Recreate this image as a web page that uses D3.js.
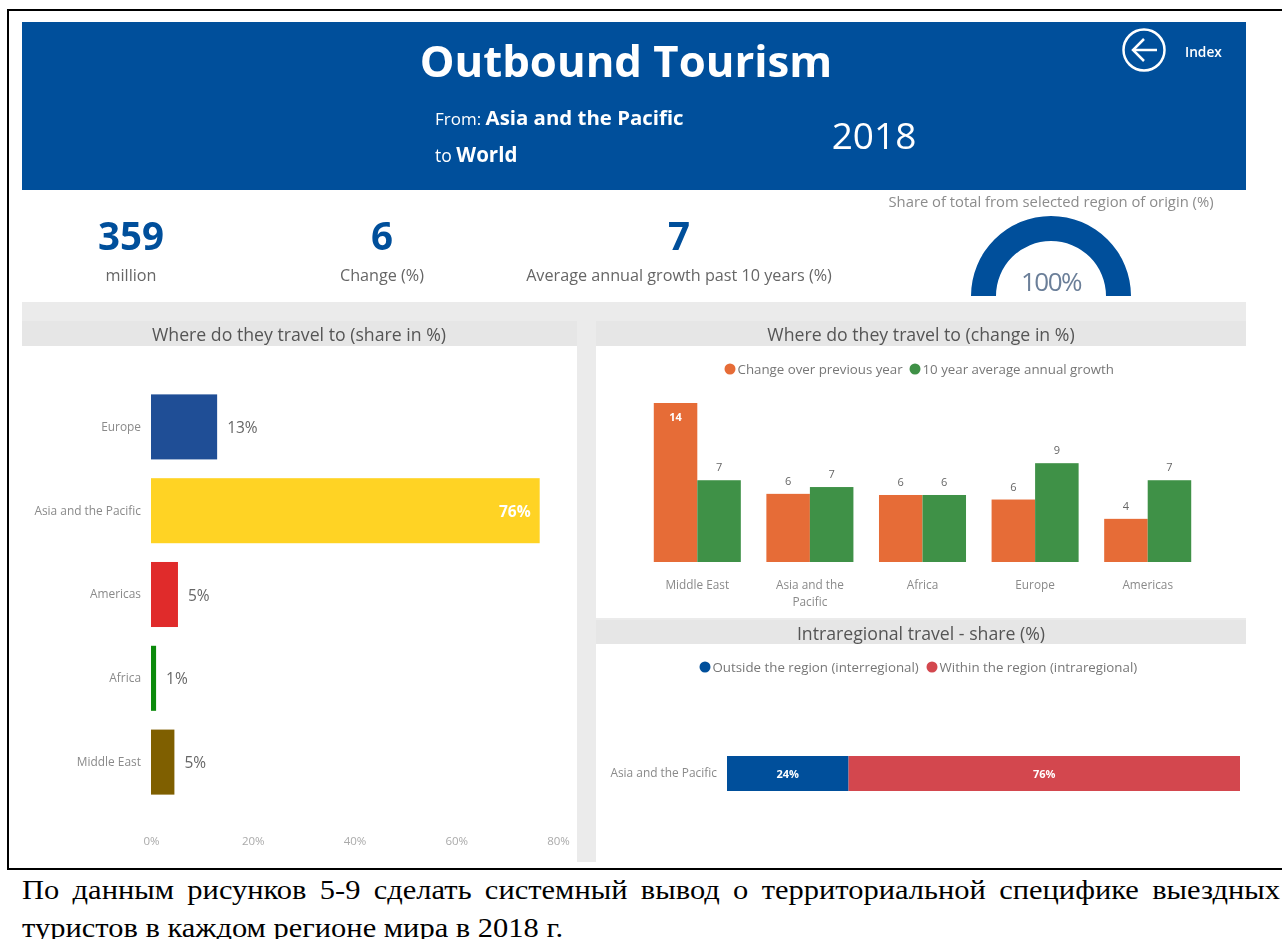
<!DOCTYPE html>
<html><head><meta charset="utf-8">
<script src="https://cdn.jsdelivr.net/npm/d3@7"></script>
<style>
html,body{margin:0;padding:0;background:#fff;overflow:hidden}
svg{display:block}
text{font-family:"Open Sans",sans-serif}
.soft{filter:blur(0.6px)}
</style></head><body>
<script>
const regions = ["Europe","Asia and the Pacific","Americas","Africa","Middle East"];
const shareValues = [13,76.4,5.3,1,4.6];
const shareColors = ["#1F4E96","#FFD324","#E02B2B","#0B8A0B","#7F5F00"];
const shareTicks = [0,20,40,60,80];
const changeRegions = ["Middle East","Asia and the Pacific","Africa","Europe","Americas"];
const changeLines = [["Middle East"],["Asia and the","Pacific"],["Africa"],["Europe"],["Americas"]];
const changeSeries = ["Change over previous year","10 year average annual growth"];
const changePrev = [14,6,5.9,5.5,3.8];
const changeAvg = [7.2,6.6,5.9,8.7,7.2];
const changeColors = ["#E66C37","#3F9147"];
const intraCategory = ["Asia and the Pacific"];
const intraSeries = ["Outside the region (interregional)","Within the region (intraregional)"];
const intraValues = [23.7,76.3];
const intraColors = ["#004F9B","#D3474E"];
const kpiValues = ["359","6","7"];
const kpiLabels = ["million","Change (%)","Average annual growth past 10 years (%)"];
const gaugeValue = 100;
const questionLines = ["По данным рисунков 5-9 сделать системный вывод о территориальной специфике выездных","туристов в каждом регионе мира в 2018 г."];

const BLUE="#004F9B", GREY="#777";
const svg=d3.select("body").append("svg").attr("width",1282).attr("height",939);
const g=svg.append("g").attr("class","soft");
const rect=(x,y,w,h,f,p=g)=>p.append("rect").attr("x",x).attr("y",y).attr("width",w).attr("height",h).attr("fill",f);
const txt=(s,x,y,size,fill,anchor="middle",weight=400,p=g)=>p.append("text").attr("x",x).attr("y",y).attr("font-size",size).attr("fill",fill).attr("text-anchor",anchor).attr("font-weight",weight).text(s);

// frame
rect(7,9,1275,2,"#000",svg); rect(7,9,2,861,"#000",svg); rect(7,868,1275,2,"#000",svg);

// header
rect(22,22,1224,168,BLUE);
txt("Outbound Tourism",626,77,43.7,"#fff","middle",700);
const t1=txt("",435,125,17,"#fff","start");
t1.append("tspan").text("From: ");
t1.append("tspan").text("Asia and the Pacific").attr("font-size",20.4).attr("font-weight",700);
const t2=txt("",435,162,17.5,"#fff","start");
t2.append("tspan").text("to ");
t2.append("tspan").text("World").attr("font-size",20.5).attr("font-weight",700);
txt("2018",874,149,37,"#fff");
g.append("circle").attr("cx",1144).attr("cy",50).attr("r",20.5).attr("fill","none").attr("stroke","#fff").attr("stroke-width",2.5);
g.append("path").attr("d",d3.line()([[1133,50],[1157,50]])).attr("stroke","#fff").attr("stroke-width",2.5);
g.append("path").attr("d",d3.line()([[1144,39],[1133,50],[1144,61]])).attr("fill","none").attr("stroke","#fff").attr("stroke-width",2.5);
txt("Index",1185,57,13.7,"#fff","start",600);

// KPI
[131,382,679].forEach((x,i)=>{
  txt(kpiValues[i],x,250,38.5,BLUE,"middle",700);
  txt(kpiLabels[i],x,281,16.2,"#666");
});
txt("Share of total from selected region of origin (%)",1051,207,14.8,"#8c8c8c");
const gaugeAngle=d3.scaleLinear().domain([0,100]).range([-Math.PI/2,Math.PI/2]);
g.append("path").attr("transform","translate(1051,296)")
  .attr("d",d3.arc()({innerRadius:55,outerRadius:80,startAngle:gaugeAngle(0),endAngle:gaugeAngle(gaugeValue)})).attr("fill",BLUE);
txt(gaugeValue+"%",1051,291,26,"#6B7F99").attr("letter-spacing",-1.5);

// panels
rect(22,302,1224,19,"#ebebeb");
rect(577,320,19,542,"#ebebeb");
rect(596,618,650,2,"#ebebeb");
rect(22,321,555,25,"#e6e6e6");
rect(596,321,650,25,"#e6e6e6");
rect(596,620,650,24,"#e6e6e6");
const titleColor="#555";
txt("Where do they travel to (share in %)",299,341,17.7,titleColor);
txt("Where do they travel to (change in %)",921,341,17.7,titleColor);
txt("Intraregional travel - share (%)",921,640,17.7,titleColor);

// share chart
const x1=d3.scaleLinear().domain([0,80]).range([151,558]);
const y1=d3.scaleBand().domain(regions).range([385,804]).paddingInner(.224).paddingOuter(.112);
const axisStyle=(sel,size,fill)=>{sel.select(".domain").remove();sel.selectAll("line").remove();sel.selectAll("text").attr("font-size",size).attr("fill",fill).attr("font-family",'"Open Sans",sans-serif');};
g.append("g").attr("transform","translate(0,835)")
  .call(d3.axisBottom(x1).tickValues(shareTicks).tickFormat(d=>d+"%").tickSize(0).tickPadding(2)).call(axisStyle,11.5,"#aaa");
g.append("g").attr("transform","translate(151,0)")
  .call(d3.axisLeft(y1).tickSize(0).tickPadding(10)).call(axisStyle,11.9,"#8a8a8a");
g.selectAll(".share").data(regions).join("rect").attr("class","share")
  .attr("x",x1(0)).attr("y",d=>y1(d)).attr("height",y1.bandwidth())
  .attr("width",(d,i)=>x1(shareValues[i])-x1(0)).attr("fill",(d,i)=>shareColors[i]);
g.selectAll(".shareLabel").data(regions).join("text").attr("class","shareLabel")
  .attr("y",d=>y1(d)+y1.bandwidth()/2+6).attr("font-size",15.5)
  .each(function(d,i){
    const inside=shareValues[i]>50, xv=x1(shareValues[i]);
    d3.select(this).attr("x",inside?xv-9:xv+10).attr("text-anchor",inside?"end":"start")
      .attr("fill",inside?"#fff":"#666").attr("font-weight",inside?700:400).text(Math.round(shareValues[i])+"%");
  });

// legends
const legend=(cx1,cx2,y,names,colors,size)=>{
  [cx1,cx2].forEach((cx,i)=>{
    g.append("circle").attr("cx",cx).attr("cy",y).attr("r",5.5).attr("fill",colors[i]);
    txt(names[i],cx+7.5,y+4.5,size,GREY,"start");
  });
};
legend(730,915,369,changeSeries,changeColors,13.3);
legend(705,932,667,intraSeries,intraColors,13.3);

// change chart
const x2=d3.scaleBand().domain(changeRegions).range([641,1204]).paddingInner(.227).paddingOuter(.1135);
const x2s=d3.scaleBand().domain(changeSeries).range([0,x2.bandwidth()]);
const y2=d3.scaleLinear().domain([0,14]).range([562,403]);
const groups=g.selectAll(".grp").data(changeRegions).join("g").attr("class","grp").attr("transform",d=>`translate(${x2(d)},0)`);
[changePrev,changeAvg].forEach((vals,k)=>{
  groups.append("rect").attr("x",x2s(changeSeries[k])).attr("width",x2s.bandwidth())
    .attr("y",(d,i)=>y2(vals[i])).attr("height",(d,i)=>y2(0)-y2(vals[i])).attr("fill",changeColors[k]);
  groups.append("text").attr("x",x2s(changeSeries[k])+x2s.bandwidth()/2).attr("text-anchor","middle").attr("font-size",11)
    .each(function(d,i){
      const big=vals[i]>10;
      d3.select(this).attr("y",big?y2(vals[i])+18:y2(vals[i])-9).attr("fill",big?"#fff":"#666").attr("font-weight",big?700:400).text(Math.round(vals[i]));
    });
});
g.append("g").attr("transform","translate(0,562)").call(d3.axisBottom(x2).tickSize(0).tickFormat("")).call(axisStyle,11,"#8a8a8a");
changeRegions.forEach((r,i)=>changeLines[i].forEach((l,j)=>
  txt(l,x2(r)+x2.bandwidth()/2,589+j*17,11.8,"#8a8a8a")));

// intraregional chart
const x3=d3.scaleLinear().domain([0,100]).range([727,1240]);
const y3=d3.scaleBand().domain(intraCategory).range([756,791]);
const stack=d3.stack().keys([0,1]).value((d,k)=>d[k])([intraValues]);
g.append("g").attr("transform","translate(727,0)").call(d3.axisLeft(y3).tickSize(0).tickPadding(10)).call(axisStyle,11.9,"#8a8a8a");
g.selectAll(".seg").data(stack).join("rect").attr("class","seg")
  .attr("x",d=>x3(d[0][0])).attr("width",d=>x3(d[0][1])-x3(d[0][0]))
  .attr("y",y3(intraCategory[0])).attr("height",y3.bandwidth()).attr("fill",(d,i)=>intraColors[i]);
g.selectAll(".segLabel").data(stack).join("text").attr("class","segLabel")
  .attr("x",d=>(x3(d[0][0])+x3(d[0][1]))/2).attr("y",y3(intraCategory[0])+y3.bandwidth()/2+4)
  .attr("text-anchor","middle").attr("font-size",11).attr("font-weight",700).attr("fill","#fff")
  .text((d,i)=>Math.round(intraValues[i])+"%");

// question text: the reference's second line is clipped by the page bottom as well
const sx=30.5/28;
const q1=svg.append("text").attr("transform",`translate(22,899) scale(${sx},1)`).attr("font-size",28).attr("fill","#000").style("font-family",'"Liberation Serif",serif').text(questionLines[0]);
const extra=((1280-22)/sx-q1.node().getComputedTextLength())/(questionLines[0].split(" ").length-1);
q1.attr("word-spacing",extra);
svg.append("text").attr("transform",`translate(22,937) scale(${sx},1)`).attr("font-size",28).attr("fill","#000").style("font-family",'"Liberation Serif",serif').text(questionLines[1]);
</script>
</body></html>
